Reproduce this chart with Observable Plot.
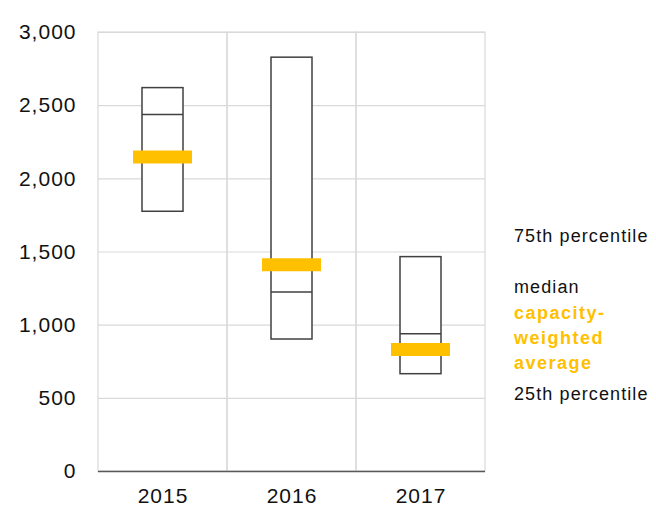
<!DOCTYPE html>
<html><head><meta charset="utf-8">
<script src="https://cdn.jsdelivr.net/npm/d3@7"></script>
<script src="https://cdn.jsdelivr.net/npm/@observablehq/plot@0.6"></script>
<style>
body{margin:0;background:#fff;font-family:"Liberation Sans",Arial,sans-serif;}
#wrap{position:relative;width:656px;height:525px;}
.lg{position:absolute;left:514px;font-size:18px;letter-spacing:1.1px;color:#111;line-height:1;white-space:nowrap;transform:translateY(-50%);}
.lg.y{color:#FFC000;font-weight:bold;letter-spacing:1.5px;}
</style></head>
<body><div id="wrap"></div>
<script>
const years = ["2015","2016","2017"];
const p25 = [1775, 902, 665];
const p75 = [2620, 2828, 1465];
const median = [2440, 1226, 941];
const cwa = [2150, 1413, 834];
const yTicks = [0, 500, 1000, 1500, 2000, 2500, 3000];
const legendLabels = [["75th percentile",236,""],["median",287,""],["capacity-",313,"y"],["weighted",338,"y"],["average",363,"y"],["25th percentile",394,""]];

const data = years.map((y,i)=>({year:y,p25:p25[i],p75:p75[i],median:median[i],cwa:cwa[i]}));

const chart = Plot.plot({
  width: 656, height: 525,
  marginLeft: 98, marginRight: 171, marginTop: 32, marginBottom: 54,
  style: {fontFamily: '"Liberation Sans", Arial, sans-serif', fontSize: "21px", color: "#111", letterSpacing: "1px"},
  x: {domain: years, padding: 0, label: null},
  y: {domain: [0, 3000], label: null},
  marks: [
    Plot.ruleY(yTicks, {stroke: "#d9d9d9", strokeWidth: 1.2}),
    Plot.barY(years, {x: d=>d, y1: 0, y2: 3000, fill: "none", stroke: "#d9d9d9", strokeWidth: 1.2}),
    Plot.ruleY([0], {stroke: "#595959", strokeWidth: 1.5}),
    Plot.barY(data, {x: "year", y1: "p25", y2: "p75", fill: "white", stroke: "#404040", strokeWidth: 1.5, insetLeft: 44, insetRight: 44}),
    Plot.tickY(data, {x: "year", y: "median", stroke: "#404040", strokeWidth: 1.5, insetLeft: 44, insetRight: 44}),
    Plot.tickY(data, {x: "year", y: "cwa", stroke: "#FFC000", strokeWidth: 13, insetLeft: 35, insetRight: 35}),
    Plot.axisY({ticks: yTicks, tickFormat: d3.format(","), tickSize: 0, tickPadding: 22}),
    Plot.axisX({tickSize: 0, tickPadding: 17})
  ]
});
const wrap = document.getElementById("wrap");
wrap.appendChild(chart);
for (const [t, top, cls] of legendLabels) {
  const d = document.createElement("div");
  d.className = "lg " + cls;
  d.style.top = top + "px";
  d.textContent = t;
  wrap.appendChild(d);
}
</script></body></html>
